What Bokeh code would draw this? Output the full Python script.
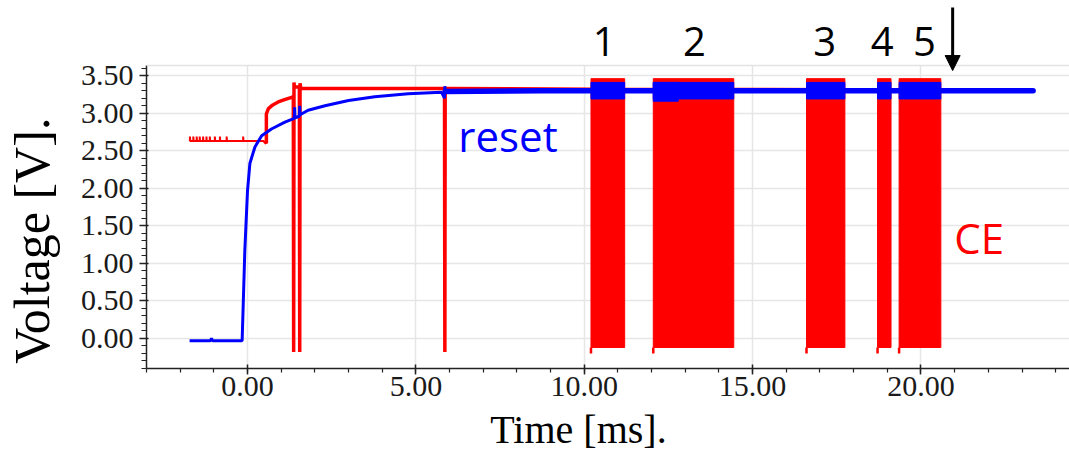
from bokeh.plotting import figure
from bokeh.models import (Range1d, SingleIntervalTicker, PrintfTickFormatter, Label,
                          Arrow, NormalHead, BoxAnnotation, Span)
from bokeh.embed import file_html
from bokeh.resources import INLINE

# ---------------- data ----------------
# reset signal (blue), time in ms, voltage in V
reset_t = [-1.72, -1.10, -1.07, -1.04, -0.16, -0.08, 0.00, 0.07, 0.22, 0.42, 0.71, 1.11,
           1.39, 1.40, 1.41, 1.54, 1.55, 1.56, 1.80, 2.30, 3.00, 3.78, 4.77, 5.76,
           5.85, 5.86, 5.87, 8.70, 23.33]
reset_v = [-0.03, -0.03, 0.00, -0.03, -0.03, 1.17, 1.97, 2.33, 2.55, 2.70, 2.79, 2.88,
           2.93, 3.08, 2.94, 2.96, 3.10, 2.98, 3.04, 3.10, 3.17, 3.22, 3.26, 3.28,
           3.20, 3.36, 3.29, 3.30, 3.30]

# CE signal (red)
ce_noise_t = [-1.71, -1.61, -1.51, -1.42, -1.32, -1.22, -1.12, -0.97, -0.82, -0.62, -0.13]
ce_noise_v = 2.69
ce_base_v = 2.63
ce_t = [0.50, 0.56, 0.56, 0.62, 0.75, 0.91, 1.10, 1.31, 1.36, 1.37, 1.38, 1.39, 1.54,
        1.55, 1.56, 1.58, 5.85, 5.86, 5.87, 10.20, 20.59]
ce_v = [2.63, 2.60, 2.99, 3.06, 3.11, 3.15, 3.18, 3.21, 3.22, -0.18, 3.41, 3.35, 3.35,
        -0.18, 3.40, 3.33, 3.33, -0.18, 3.33, 3.32, 3.31]

# CE bursts
burst_start = [10.20, 12.05, 16.60, 18.71, 19.35]
burst_end = [11.20, 14.44, 17.74, 19.11, 20.59]
burst_low = [-0.12, -0.12, -0.12, -0.12, -0.12]
burst_high = [3.46, 3.46, 3.46, 3.46, 3.46]
burst_dip = [-0.20, -0.20, -0.20, -0.20, -0.20]
# reset ripple band during bursts
band_low = [3.19, 3.19, 3.19, 3.19, 3.19]
band_high = [3.41, 3.41, 3.41, 3.41, 3.41]
band2_start, band2_end, band2_low = [12.05], [12.79], [3.16]

burst_labels = ["1", "2", "3", "4", "5"]
burst_label_t = [10.59, 13.27, 17.14, 18.85, 20.10]
marker_t = 20.94

RED = "#ff0000"
BLUE = "#0000ff"
Y_TOP = 3.635     # top of the drawing area
NBSP = "\u00a0"

p = figure(frame_width=924, frame_height=368, output_backend="svg", toolbar_location=None,
           x_range=Range1d(-3.0, 24.44), y_range=Range1d(-0.40, 4.501),
           min_border_left=145, min_border_right=0, min_border_top=0, min_border_bottom=89)
p.background_fill_color = "white"
p.border_fill_color = "white"
p.outline_line_color = None

# red CE trace
ce_full_t = [reset_t[0]]
ce_full_v = [ce_base_v]
for t in ce_noise_t:
    ce_full_t += [t, t, t + 0.01]
    ce_full_v += [ce_base_v, ce_noise_v, ce_base_v]
early_n = len(ce_full_t) + 1
ce_full_t += ce_t
ce_full_v += ce_v
p.line(ce_full_t[:early_n], ce_full_v[:early_n], line_color=RED, line_width=2)
p.line(ce_full_t[early_n - 1:], ce_full_v[early_n - 1:], line_color=RED, line_width=3.5)

p.quad(left=burst_start, right=burst_end, bottom=burst_low, top=burst_high,
       fill_color=RED, line_color=RED, line_width=1)
p.segment(x0=burst_start, y0=burst_dip, x1=burst_start, y1=burst_low,
          line_color=RED, line_width=2.5)

# blue reset trace
flat_i = reset_t.index(8.70)
p.line(reset_t[:flat_i + 1], reset_v[:flat_i + 1], line_color=BLUE, line_width=3)
p.line(reset_t[flat_i - 1:], reset_v[flat_i - 1:], line_color=BLUE, line_width=5.5,
       line_cap="round")
p.quad(left=burst_start, right=burst_end, bottom=band_low, top=band_high,
       fill_color=BLUE, line_color=BLUE, line_width=1)
p.quad(left=band2_start, right=band2_end, bottom=band2_low, top=band_high[:1],
       fill_color=BLUE, line_color=BLUE, line_width=1)

# axes
SERIF = "Liberation Serif"
for ax in (p.xaxis[0], p.yaxis[0]):
    ax.major_label_text_font = SERIF
    ax.major_label_text_font_size = "30px"
    ax.major_label_text_color = "#1a1a1a"
    ax.axis_label_text_font = SERIF
    ax.axis_label_text_font_style = "normal"
    ax.axis_label_text_color = "black"
    ax.axis_line_color = "#222222"
    ax.axis_line_width = 1.5
    ax.major_tick_line_color = "#222222"
    ax.minor_tick_line_color = "#222222"
    ax.major_tick_line_width = 1.5
    ax.minor_tick_line_width = 1.2
    ax.formatter = PrintfTickFormatter(format="%.2f")

p.xaxis.ticker = SingleIntervalTicker(interval=5, num_minor_ticks=5)
p.yaxis.ticker = SingleIntervalTicker(interval=0.5, num_minor_ticks=5)
p.yaxis.bounds = (-0.40, Y_TOP)
p.xaxis.axis_label = "Time [ms]." + NBSP * 6
p.yaxis.axis_label = "Voltage [V]." + NBSP * 9
p.xaxis.axis_label_text_font_size = "40px"
p.yaxis.axis_label_text_font_size = "50px"
p.xaxis.major_tick_out = 6
p.xaxis.major_tick_in = 4
p.xaxis.minor_tick_out = 4
p.xaxis.minor_tick_in = 0
p.yaxis.major_tick_out = 7
p.yaxis.major_tick_in = 2
p.yaxis.minor_tick_out = 5
p.yaxis.minor_tick_in = 0
p.xaxis.major_label_standoff = 2
p.yaxis.major_label_standoff = 6
p.xaxis.axis_label_standoff = 8
p.yaxis.axis_label_standoff = 18

p.xgrid.grid_line_color = "#e6e6e6"
p.ygrid.grid_line_color = "#e6e6e6"
p.xgrid.grid_line_width = 1.5
p.ygrid.grid_line_width = 1.5

# blank the area above the plot, then the light top border line
p.add_layout(BoxAnnotation(bottom=Y_TOP, fill_color="white", fill_alpha=1.0,
                           line_color=None, level="annotation"))
p.add_layout(Span(location=Y_TOP, dimension="width", line_color="#e3e3e3",
                  line_width=1.5))

# annotations
SANS = "Open Sans"
for txt, t in zip(burst_labels, burst_label_t):
    p.add_layout(Label(x=t, y=3.955, text=txt, text_font=SANS, text_font_size="40px",
                       text_align="center", text_baseline="middle", text_color="black"))
p.add_layout(Label(x=6.26, y=2.70, text="reset", text_font=SANS, text_font_size="42px",
                   text_align="left", text_baseline="alphabetic", text_color=BLUE))
p.add_layout(Label(x=20.99, y=1.34, text="CE", text_font=SANS, text_font_size="42px",
                   text_align="left", text_baseline="alphabetic", text_color=RED))
p.add_layout(Arrow(x_start=marker_t, y_start=4.407, x_end=marker_t, y_end=3.568,
                   line_color="black", line_width=3,
                   end=NormalHead(size=15, fill_color="black", line_color="black")))

open("out.html", "w").write(file_html(p, INLINE))
